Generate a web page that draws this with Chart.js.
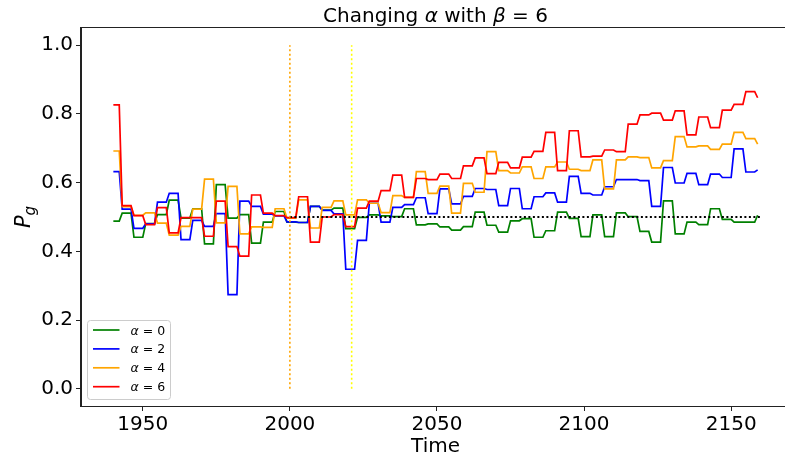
<!DOCTYPE html>
<html><head><meta charset="utf-8">
<script src="https://cdn.jsdelivr.net/npm/chart.js@4/dist/chart.umd.min.js"></script>
<style>
html,body{margin:0;padding:0;background:#fff;overflow:hidden;width:785px;height:461px}
#wrap{position:relative;width:800px;height:461px}
</style></head>
<body><div id="wrap"><canvas id="c" width="800" height="461"></canvas></div>
<script>
// First year of each 4-year block (values are held constant within a block)
const blockStarts = [1940,1943,1947,1951,1955,1959,1963,1967,
  1971,1975,1979,1983,1987,1991,1995,1999,
  2003,2007,2011,2015,2019,2023,2027,2031,
  2035,2039,2043,2047,2051,2055,2059,2063,
  2067,2071,2075,2079,2083,2087,2091,2095,
  2099,2103,2107,2111,2115,2119,2123,2127,
  2131,2135,2139,2143,2147,2151,2155,2159];
const lastYear = 2159;

const alpha0 = [0.488,0.511,0.441,0.481,0.507,0.549,0.497,0.524,
  0.422,0.594,0.497,0.507,0.424,0.485,0.516,0.485,
  0.484,0.531,0.520,0.526,0.466,0.499,0.506,0.503,
  0.501,0.524,0.477,0.480,0.471,0.462,0.472,0.514,
  0.476,0.456,0.489,0.495,0.441,0.460,0.514,0.496,
  0.443,0.506,0.443,0.512,0.501,0.458,0.427,0.547,
  0.451,0.485,0.478,0.524,0.493,0.485,0.485,0.505];
const alpha2 = [0.632,0.523,0.467,0.480,0.543,0.569,0.434,0.490,
  0.473,0.510,0.274,0.546,0.531,0.508,0.503,0.486,
  0.484,0.531,0.519,0.509,0.348,0.432,0.540,0.485,
  0.528,0.536,0.556,0.510,0.582,0.538,0.560,0.583,
  0.580,0.533,0.583,0.524,0.559,0.570,0.543,0.618,
  0.569,0.564,0.588,0.609,0.609,0.606,0.531,0.644,
  0.599,0.627,0.594,0.625,0.615,0.698,0.631,0.637];
const alpha4 = [0.692,0.530,0.505,0.512,0.482,0.447,0.473,0.523,
  0.610,0.483,0.589,0.451,0.471,0.470,0.524,0.497,
  0.550,0.468,0.528,0.547,0.506,0.550,0.540,0.513,
  0.562,0.557,0.632,0.569,0.590,0.511,0.598,0.572,
  0.690,0.635,0.628,0.646,0.612,0.646,0.660,0.639,
  0.635,0.666,0.582,0.666,0.675,0.673,0.643,0.664,
  0.734,0.704,0.707,0.697,0.712,0.746,0.728,0.712];
const alpha6 = [0.826,0.533,0.504,0.478,0.527,0.454,0.498,0.498,
  0.444,0.546,0.414,0.386,0.564,0.511,0.504,0.498,
  0.559,0.427,0.500,0.507,0.472,0.526,0.546,0.577,
  0.622,0.557,0.612,0.609,0.625,0.612,0.649,0.672,
  0.626,0.659,0.643,0.674,0.691,0.746,0.635,0.751,
  0.675,0.677,0.695,0.690,0.770,0.797,0.802,0.782,
  0.809,0.739,0.791,0.760,0.811,0.828,0.865,0.847];

const seriesLabels = ['0','2','4','6'];
const seriesColors = ['green','blue','orange','red'];
const xTicks = [1950,2000,2050,2100,2150];
const yTicks = [0.0,0.2,0.4,0.6,0.8,1.0];
const markerYears = [2000, 2021];
const markerColors = ['orange','yellow'];
const refLevel = 0.5;
const refStart = 2000, refEnd = 2160;

function blockPoints(vals){
  const pts = [];
  for (let i = 0; i < blockStarts.length; i++){
    const s = blockStarts[i];
    const e = (i + 1 < blockStarts.length) ? blockStarts[i+1] - 1 : lastYear;
    pts.push({x:s, y:vals[i]});
    if (e > s) pts.push({x:e, y:vals[i]});
  }
  return pts;
}

const allSeries = [alpha0, alpha2, alpha4, alpha6];
const datasets = allSeries.map((vals, i) => ({
  label: 'α = ' + seriesLabels[i],
  data: blockPoints(vals),
  borderColor: seriesColors[i],
  borderWidth: 1.7,
  pointRadius: 0,
  tension: 0,
  order: 4 - i
}));
markerYears.forEach((yr, i) => datasets.push({
  label: 'marker' + i,
  data: [{x:yr, y:0}, {x:yr, y:1}],
  borderColor: markerColors[i], borderWidth: 1.6, borderDash: [2, 2.5],
  pointRadius: 0, order: 0
}));
datasets.push({
  label: 'ref',
  data: [{x:refStart, y:refLevel}, {x:refEnd, y:refLevel}],
  borderColor: '#000', borderWidth: 1.8, borderDash: [2, 2.5],
  pointRadius: 0, order: 0
});

const FAM = "'DejaVu Sans', sans-serif";
function richWidth(ctx, segs){
  let w = 0;
  segs.forEach(s => { ctx.font = s.f; w += ctx.measureText(s.t).width; });
  return w;
}
function drawRich(ctx, segs, x, y){
  segs.forEach(s => {
    ctx.font = s.f;
    ctx.fillText(s.t, x, y + (s.dy || 0));
    x += ctx.measureText(s.t).width;
  });
}

const textPlugin = {
  id: 'texts',
  afterDraw(chart){
    const ctx = chart.ctx, a = chart.chartArea;
    ctx.save();
    // frame
    ctx.strokeStyle = '#222'; ctx.lineWidth = 1;
    ctx.strokeRect(Math.round(a.left) - 0.5, Math.round(a.top) - 0.5,
                   Math.round(a.right - a.left) + 1, Math.round(a.bottom - a.top) + 1);
    ctx.fillStyle = '#000';
    ctx.textBaseline = 'alphabetic';
    const cx = (a.left + a.right) / 2;
    // title
    const n20 = '20px ' + FAM, i20 = 'italic 20px ' + FAM;
    const title = [{t:'Changing ', f:n20}, {t:'α', f:i20}, {t:' with ', f:n20},
                   {t:'β', f:i20}, {t:' = ', f:n20}, {t:'6', f:n20}];
    drawRich(ctx, title, cx - richWidth(ctx, title) / 2, 22);
    // x label
    ctx.font = n20; ctx.textAlign = 'left';
    const tw = ctx.measureText('Time').width;
    ctx.fillText('Time', cx - tw / 2, 452);
    // y label P_g
    const ylab = [{t:'P', f:'italic 21px ' + FAM}, {t:'g', f:'italic 15px ' + FAM, dy: 5}];
    ctx.save();
    ctx.translate(30, (a.top + a.bottom) / 2);
    ctx.rotate(-Math.PI / 2);
    drawRich(ctx, ylab, -richWidth(ctx, ylab) / 2, 0);
    ctx.restore();
    // legend
    const bx = 87.5, by = 320.5, bw = 83, bh = 79, r = 3;
    ctx.beginPath();
    ctx.moveTo(bx + r, by);
    ctx.arcTo(bx + bw, by, bx + bw, by + bh, r);
    ctx.arcTo(bx + bw, by + bh, bx, by + bh, r);
    ctx.arcTo(bx, by + bh, bx, by, r);
    ctx.arcTo(bx, by, bx + bw, by, r);
    ctx.closePath();
    ctx.fillStyle = 'rgba(255,255,255,0.8)'; ctx.fill();
    ctx.strokeStyle = '#cccccc'; ctx.lineWidth = 1; ctx.stroke();
    const n12 = '12.5px ' + FAM, i12 = 'italic 12.5px ' + FAM;
    for (let i = 0; i < seriesLabels.length; i++){
      const yy = 330 + i * 18.9;
      ctx.strokeStyle = seriesColors[i]; ctx.lineWidth = 1.7;
      ctx.beginPath(); ctx.moveTo(93, yy); ctx.lineTo(119.5, yy); ctx.stroke();
      ctx.fillStyle = '#000';
      drawRich(ctx, [{t:'α', f:i12}, {t:' = ' + seriesLabels[i], f:n12}], 130.5, yy + 4.5);
    }
    ctx.restore();
  }
};

const tickFont = {family: "'DejaVu Sans', sans-serif", size: 20};
new Chart(document.getElementById('c'), {
  type: 'line',
  data: {datasets},
  options: {
    responsive: false, animation: false, devicePixelRatio: 1,
    layout: {padding: {left: 0, right: 10, top: 28, bottom: 0}},
    plugins: {legend: {display: false}, title: {display: false}, tooltip: {enabled: false}},
    elements: {point: {radius: 0}, line: {tension: 0}},
    scales: {
      x: {
        type: 'linear', min: 1929, max: 2170,
        afterFit(s){ s.height = 55; },
        afterBuildTicks(s){ s.ticks = xTicks.map(v => ({value: v})); },
        ticks: {font: tickFont, color: '#000', padding: 2, maxRotation: 0, autoSkip: false,
                callback: v => String(v)},
        grid: {drawOnChartArea: false, drawTicks: true, tickLength: 5, color: '#222', lineWidth: 1},
        border: {display: true, color: '#222', width: 1}
      },
      y: {
        type: 'linear', min: -0.05, max: 1.05,
        afterFit(s){ s.width = 81; },
        afterBuildTicks(s){ s.ticks = yTicks.map(v => ({value: v})); },
        ticks: {font: tickFont, color: '#000', padding: 3, autoSkip: false,
                callback: v => Number(v).toFixed(1)},
        grid: {drawOnChartArea: false, drawTicks: true, tickLength: 5, color: '#222', lineWidth: 1},
        border: {display: true, color: '#222', width: 1}
      }
    }
  },
  plugins: [textPlugin]
});
</script>
</body></html>
